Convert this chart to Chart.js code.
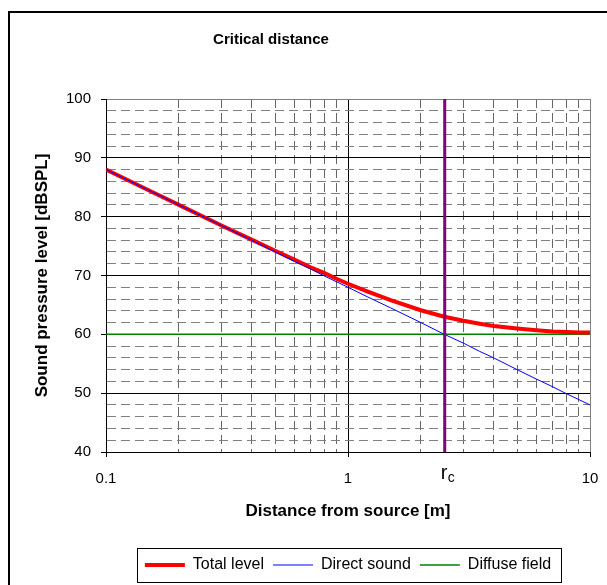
<!DOCTYPE html>
<html>
<head>
<meta charset="utf-8">
<script src="https://cdn.jsdelivr.net/npm/chart.js@4.4.0/dist/chart.umd.min.js"></script>
<style>
  body { margin: 0; background: #fff; }
  #wrap { width: 607px; height: 585px; }
</style>
</head>
<body>
<div id="wrap"><canvas id="chart" width="607" height="585"></canvas></div>
<script>
// values
var distances = [0.1, 0.15, 0.2, 0.3, 0.4, 0.5, 0.6, 0.7, 0.8, 0.9, 1, 1.2, 1.5, 2, 2.5, 3, 3.5, 4, 5, 6, 7, 8, 9, 10];
var totalLevel = [88.0, 84.5, 82.0, 78.5, 76.1, 74.2, 72.7, 71.4, 70.4, 69.4, 68.6, 67.3, 65.8, 64.1, 63.0, 62.3, 61.8, 61.4, 61.0, 60.7, 60.5, 60.4, 60.3, 60.3];
var directSound = [88.0, 84.5, 82.0, 78.5, 76.0, 74.0, 72.4, 71.1, 69.9, 68.9, 68.0, 66.4, 64.5, 62.0, 60.0, 58.5, 57.1, 56.0, 54.0, 52.4, 51.1, 49.9, 48.9, 48.0];
var diffuseX = [0.1, 10];
var diffuseField = [60, 60];
var rcX = [2.51, 2.51];
var rcY = [40, 100];

var xGridValues = [0.1, 0.2, 0.3, 0.4, 0.5, 0.6, 0.7, 0.8, 0.9, 1, 2, 3, 4, 5, 6, 7, 8, 9, 10];
var xTickValues = [0.1, 1, 10];
var xTickLabels = ['0.1', '1', '10'];

function toPoints(xs, ys) {
  return xs.map(function(x, i) { return { x: x, y: ys[i] }; });
}

Chart.defaults.font.family = '"Liberation Sans", Arial, sans-serif';
Chart.defaults.color = '#000';

var decorations = {
  id: 'decorations',
  beforeDraw: function(chart) {
    var ctx = chart.ctx;
    ctx.save();
    ctx.fillStyle = '#fff';
    ctx.fillRect(0, 0, chart.width, chart.height);
    ctx.strokeStyle = '#000';
    ctx.lineWidth = 2;
    ctx.beginPath();
    ctx.moveTo(9, chart.height);
    ctx.lineTo(9, 12);
    ctx.lineTo(chart.width, 12);
    ctx.stroke();
    ctx.restore();
  },
  afterDraw: function(chart) {
    var ctx = chart.ctx;
    ctx.save();
    // chart title
    ctx.fillStyle = '#000';
    ctx.font = 'bold 15px "Liberation Sans", Arial, sans-serif';
    ctx.textAlign = 'center';
    ctx.textBaseline = 'alphabetic';
    ctx.fillText('Critical distance', 271, 44);
    // r_c label under the marker line
    var xr = chart.scales.x.getPixelForValue(rcX[0]);
    ctx.textAlign = 'left';
    ctx.font = '20px "Liberation Sans", Arial, sans-serif';
    ctx.fillText('r', xr - 4, 479);
    ctx.font = '14px "Liberation Sans", Arial, sans-serif';
    ctx.fillText('c', xr + 3, 482);
    // legend frame
    var lg = chart.legend;
    if (lg && lg.legendHitBoxes.length) {
      var l = Infinity, r = -Infinity;
      lg.legendHitBoxes.forEach(function(h) {
        l = Math.min(l, h.left);
        r = Math.max(r, h.left + h.width);
      });
      ctx.strokeStyle = '#000';
      ctx.lineWidth = 1;
      ctx.strokeRect(Math.round(l - 8) + 0.5, Math.round(lg.top) + 0.5, Math.round(r - l + 18), Math.round(lg.height) - 1);
    }
    ctx.restore();
  }
};

var Cnvs = document.getElementById('chart');
var sensitivityChart = new Chart(Cnvs, {
  type: 'line',
  data: {
    datasets: [
      {
        label: 'Total level',
        data: toPoints(distances, totalLevel),
        borderColor: '#ff0000',
        backgroundColor: '#ff0000',
        borderWidth: 4,
        pointRadius: 0,
        order: 2
      },
      {
        label: 'Direct sound',
        data: toPoints(distances, directSound),
        borderColor: '#0000ff',
        backgroundColor: '#0000ff',
        borderWidth: 1,
        pointRadius: 0,
        order: 1
      },
      {
        label: 'Diffuse field',
        data: toPoints(diffuseX, diffuseField),
        borderColor: '#008000',
        backgroundColor: '#008000',
        borderWidth: 1.5,
        pointRadius: 0,
        order: 3
      },
      {
        label: 'rc',
        data: toPoints(rcX, rcY),
        borderColor: '#800080',
        backgroundColor: '#800080',
        borderWidth: 3,
        pointRadius: 0,
        order: 0
      }
    ]
  },
  options: {
    responsive: false,
    animation: false,
    layout: { padding: { left: 10, right: 17, top: 99, bottom: 2 } },
    plugins: {
      title: { display: false },
      tooltip: { enabled: false },
      legend: {
        position: 'bottom',
        fullSize: false,
        labels: {
          usePointStyle: true,
          pointStyle: 'line',
          pointStyleWidth: 40,
          padding: 9,
          font: { size: 16 },
          color: '#000',
          filter: function(item) { return item.datasetIndex < 3; },
          sort: function(a, b) { return a.datasetIndex - b.datasetIndex; }
        }
      }
    },
    scales: {
      x: {
        type: 'logarithmic',
        min: 0.1,
        max: 10,
        afterBuildTicks: function(scale) {
          scale.ticks = xGridValues.map(function(v) { return { value: v }; });
        },
        afterFit: function(scale) {
          scale.height = 96;
          scale.paddingLeft = 0;
          scale.paddingRight = 0;
        },
        ticks: {
          autoSkip: false,
          maxRotation: 0,
          padding: 13,
          font: { size: 15 },
          color: '#000',
          callback: function(v) {
            var i = xTickValues.indexOf(v);
            return i >= 0 ? xTickLabels[i] : '';
          }
        },
        grid: {
          tickLength: 5,
          lineWidth: 1,
          color: function(ctx) {
            if (!ctx.tick) return '#000';
            var v = ctx.tick.value;
            if (v === 10) return '#808080';
            return xTickValues.indexOf(v) >= 0 ? '#000' : '#666666';
          },
          tickColor: function(ctx) {
            return ctx.tick && xTickValues.indexOf(ctx.tick.value) >= 0 ? '#000' : 'rgba(0,0,0,0)';
          }
        },
        border: {
          display: true,
          color: '#000',
          width: 1,
          dash: function(ctx) {
            if (!ctx.tick) return [];
            return xTickValues.indexOf(ctx.tick.value) >= 0 ? [] : [9, 5];
          }
        },
        title: {
          display: true,
          text: 'Distance from source [m]',
          font: { size: 17, weight: 'bold' },
          color: '#000',
          padding: { top: 0, bottom: 26 }
        }
      },
      y: {
        type: 'linear',
        min: 40,
        max: 100,
        afterFit: function(scale) { scale.width = 96; },
        ticks: {
          stepSize: 2,
          autoSkip: false,
          padding: 10,
          font: { size: 15 },
          color: '#000',
          callback: function(v) { return v % 10 === 0 ? String(v) : ''; }
        },
        grid: {
          tickLength: 5,
          lineWidth: 1,
          color: function(ctx) {
            if (!ctx.tick) return '#000';
            var v = ctx.tick.value;
            if (v === 100) return '#808080';
            return v % 10 === 0 ? '#000' : '#808080';
          },
          tickColor: function(ctx) {
            return ctx.tick && ctx.tick.value % 10 === 0 ? '#000' : 'rgba(0,0,0,0)';
          }
        },
        border: {
          display: true,
          color: '#000',
          width: 1,
          dash: function(ctx) {
            if (!ctx.tick) return [];
            return ctx.tick.value % 10 === 0 ? [] : [9, 5];
          }
        },
        title: {
          display: true,
          text: 'Sound pressure level [dBSPL]',
          font: { size: 17, weight: 'bold' },
          color: '#000',
          padding: { top: 22, bottom: 0 }
        }
      }
    }
  },
  plugins: [decorations]
});
</script>
</body>
</html>
